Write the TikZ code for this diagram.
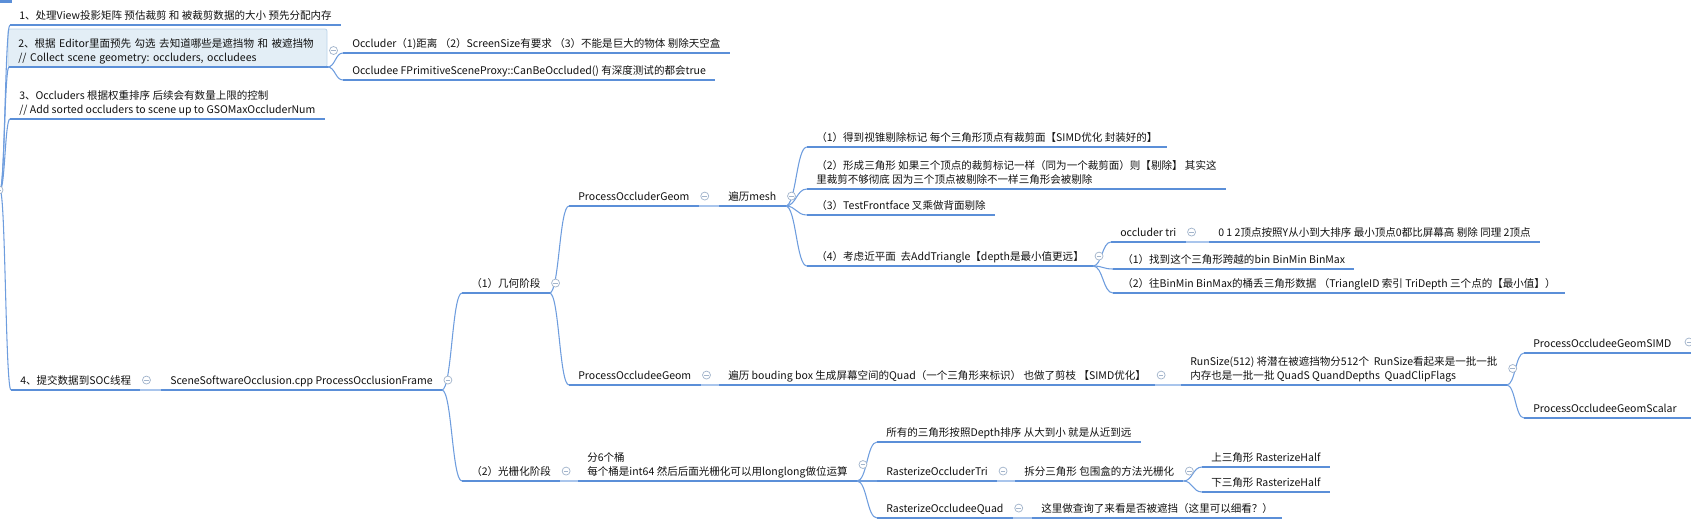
\documentclass[tikz,border=0pt]{standalone}
\usepackage{fontspec}
\setmainfont{Noto Sans CJK SC}
\usepackage{xcolor}
\usetikzlibrary{calc}
\frenchspacing

\definecolor{lineblue}{HTML}{5B8FD8}
\definecolor{linkblue}{HTML}{6E9DDE}
\definecolor{paleblue}{HTML}{A9C5EC}
\definecolor{foldgray}{HTML}{A3B5CC}
\definecolor{selfill}{HTML}{E3EEF6}
\definecolor{seldraw}{HTML}{B9D3EA}
\definecolor{inkgray}{HTML}{111111}
\newcommand\mapfont{\fontsize{7.9}{10.5}\selectfont}

\tikzset{
  topic/.style={anchor=south west, inner xsep=6.75pt, inner ysep=1pt, align=left,
    font=\mapfont, text=inkgray, execute at end node=\strut},
  uline/.style={draw=lineblue, line width=1.6pt},
  link/.style={draw=linkblue, line width=0.8pt},
  solo/.style={draw=paleblue, line width=1.2pt},
  fold/.style={circle, draw=foldgray, fill=white, line width=0.55pt, minimum size=6pt, inner sep=0pt,
    path picture={\draw[foldgray, line width=0.55pt] ([xshift=1.3pt]path picture bounding box.west)
      -- ([xshift=-1.3pt]path picture bounding box.east);}},
  selbox/.style={draw=seldraw, fill=selfill, line width=0.6pt, rounded corners=1.5pt},
  branch/.style={to path={let \p1=(\tikztostart), \p2=(\tikztotarget) in
    .. controls ({0.5*\x1+0.5*\x2},\y1) and ({0.5*\x1+0.5*\x2},\y2) .. (\tikztotarget)}}
}

\begin{document}
\begin{tikzpicture}[x=0.75pt,y=-0.75pt]
\useasboundingbox (0,0) rectangle (1691,529);
\clip (0,0) rectangle (1691,529);

\coordinate (root) at (0,190);
\draw[uline] (0,1.5) -- (12,1.5);

% first level
\draw[selbox] (8,29) rectangle (327,67);
\node[topic] (n1) at (10,25) {1、处理View投影矩阵 预估裁剪 和 被裁剪数据的大小 预先分配内存};
\node[topic, text width=225pt] (n2) at (9,67) {2、根据 Editor里面预先 勾选 去知道哪些是遮挡物 和 被遮挡物\\// Collect scene geometry: occluders, occludees};
\node[topic] (n3) at (10,119) {3、Occluders 根据权重排序 后续会有数量上限的控制\\// Add sorted occluders to scene up to GSOMaxOccluderNum};
\node[topic] (n4) at (11,390) {4、提交数据到SOC线程};

\node[topic] (c1) at (343,53) {Occluder（1)距离 （2）ScreenSize有要求 （3）不能是巨大的物体 剔除天空盒};
\node[topic] (c2) at (343,80) {Occludee FPrimitiveSceneProxy::CanBeOccluded() 有深度测试的都会true};

\node[topic] (f) at (161,390) {SceneSoftwareOcclusion.cpp ProcessOcclusionFrame};
\node[topic] (g1) at (462,293) {（1）几何阶段};
\node[topic] (g2) at (462,481) {（2）光栅化阶段};

% geometry stage
\node[topic] (h1) at (569,206) {ProcessOccluderGeom};
\node[topic] (m) at (719,206) {遍历mesh};
\node[topic] (m1) at (807,147) {（1）得到视锥剔除标记 每个三角形顶点有裁剪面【SIMD优化 封装好的】};
\node[topic] (m2) at (807,189) {（2）形成三角形 如果三个顶点的裁剪标记一样（同为一个裁剪面）则【剔除】 其实这\\里裁剪不够彻底 因为三个顶点被剔除不一样三角形会被剔除};
\node[topic] (m3) at (807,215) {（3）TestFrontface 叉乘做背面剔除};
\node[topic] (m4) at (807,266) {（4）考虑近平面 \ 去AddTriangle【depth是最小值更远】};
\node[topic] (t1) at (1111,242) {occluder tri};
\node[topic] (t1a) at (1209,242) {0 1 2顶点按照Y从小到大排序 最小顶点0都比屏幕高 剔除 同理 2顶点};
\node[topic] (t2) at (1113,269) {（1）找到这个三角形跨越的bin BinMin BinMax};
\node[topic] (t3) at (1113,293) {（2）往BinMin BinMax的桶丢三角形数据 （TriangleID 索引 TriDepth 三个点的【最小值】）};

\node[topic] (h2) at (569,385) {ProcessOccludeeGeom};
\node[topic] (q) at (719,385) {遍历 bouding box 生成屏幕空间的Quad（一个三角形来标识） 也做了剪枝 【SIMD优化】};
\node[topic] (r) at (1181,385) {RunSize(512) 将潜在被遮挡物分512个 \ RunSize看起来是一批一批\\内存也是一批一批 QuadS QuandDepths \ QuadClipFlags};
\node[topic, text width=120pt] (r1) at (1524,353) {ProcessOccludeeGeomSIMD};
\node[topic, text width=120pt] (r2) at (1524,418) {ProcessOccludeeGeomScalar};

% raster stage
\node[topic] (s) at (578,481) {分6个桶\\每个桶是int64 然后后面光栅化可以用longlong做位运算};
\node[topic] (s1) at (877,442) {所有的三角形按照Depth排序 从大到小 就是从近到远};
\node[topic] (s2) at (877,481) {RasterizeOccluderTri};
\node[topic] (s3) at (877,518) {RasterizeOccludeeQuad};
\node[topic] (u) at (1015,481) {拆分三角形 包围盒的方法光栅化};
\node[topic] (u1) at (1202,467) {上三角形 RasterizeHalf};
\node[topic] (u2) at (1202,492) {下三角形 RasterizeHalf};
\node[topic] (v) at (1032,518) {这里做查询了来看是否被遮挡（这里可以细看？）};

% connectors
\foreach \c in {n1,n2,n3,n4} \draw[link] (root) to[branch] (\c.south west);
\foreach \c in {c1,c2} \draw[link] (n2.south east) to[branch] (\c.south west);
\foreach \c in {g1,g2} \draw[link] (f.south east) to[branch] (\c.south west);
\foreach \c in {h1,h2} \draw[link] (g1.south east) to[branch] (\c.south west);
\foreach \c in {m1,m2,m3,m4} \draw[link] (m.south east) to[branch] (\c.south west);
\foreach \c in {t1,t2,t3} \draw[link] (m4.south east) to[branch] (\c.south west);
\foreach \c in {r1,r2} \draw[link] (r.south east) to[branch] (\c.south west);
\foreach \c in {s1,s2,s3} \draw[link] (s.south east) to[branch] (\c.south west);
\foreach \c in {u1,u2} \draw[link] (u.south east) to[branch] (\c.south west);
\foreach \a/\b in {n4/f,h1/m,t1/t1a,h2/q,q/r,g2/s,s2/u,s3/v}
  \draw[solo] (\a.south east) -- (\b.south west);

\foreach \n in {n1,n2,n3,n4,c1,c2,f,g1,g2,h1,m,m1,m2,m3,m4,t1,t1a,t2,t3,h2,q,r,r1,r2,s,s1,s2,s3,u,u1,u2,v}
  \draw[uline] (\n.south west) -- (\n.south east);

% fold marks
\node[fold] (root-fold) at (-1,190) {};
\foreach \n in {n2,n4,f,g1,g2,h1,m,m4,t1,h2,q,r,s,s2,s3,u}
  \node[fold] (\n-fold) at ([xshift=4.5pt,yshift=1pt]\n.east) {};
\node[fold] (r1-fold) at (1689,342) {};
\end{tikzpicture}
\end{document}
